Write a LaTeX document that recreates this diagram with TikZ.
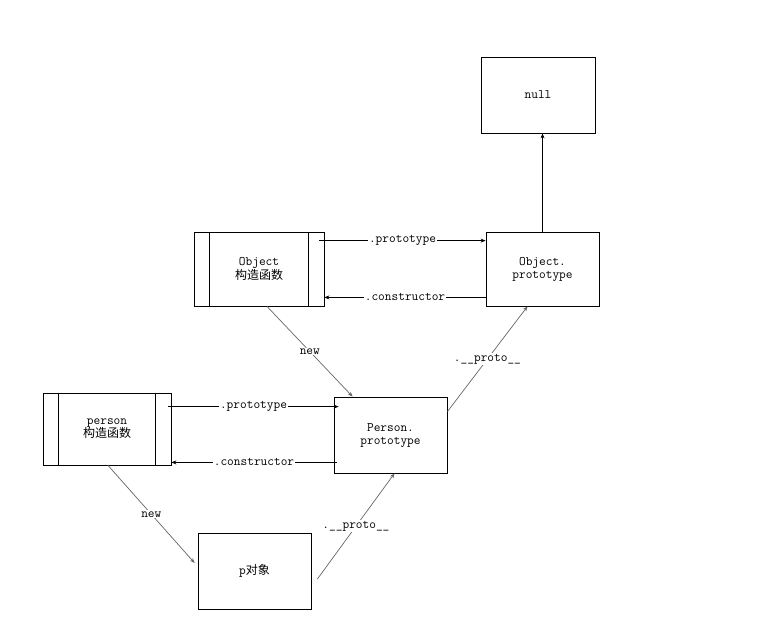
\documentclass[tikz,border=0pt]{standalone}
\usepackage{fontspec}
\newfontfamily\cjk{Noto Sans CJK SC}
\usetikzlibrary{arrows.meta}

\begin{document}
\begin{tikzpicture}[x=1pt, y=-1pt,
  box/.style={draw, line width=0.8pt, minimum width=113pt, minimum height=76pt,
    inner sep=0pt, align=center, font=\ttfamily\fontsize{13}{13}\selectfont},
  fnbox/.style={box, minimum width=130pt, minimum height=74pt},
  link/.style={line width=0.7pt, -{Stealth[length=5pt,width=4pt]}},
  slant/.style={link, draw=black!60},
  lbl/.style={fill=white, text=black, inner sep=1pt, font=\ttfamily\fontsize{13}{13}\selectfont}]
  \useasboundingbox (0,0) rectangle (784,633);

  % boxes
  \node[box, minimum width=114pt] (null) at (538,95) {null};
  \node[fnbox] (objfn) at (259,269) {Object\\{\cjk\fontsize{12}{13}\selectfont 构造函数}};
  \node[box, minimum height=74pt] (objproto) at (542.5,269) {Object.\\prototype};
  \node[fnbox, minimum width=128pt, minimum height=72pt] (personfn) at (107,429) {person\\{\cjk\fontsize{12}{13}\selectfont 构造函数}};
  \node[box] (personproto) at (390.5,435) {Person.\\prototype};
  \node[box] (pobj) at (254.5,571) {p{\cjk\fontsize{12}{13}\selectfont 对象}};

  % side bars of the constructor boxes
  \foreach \n in {objfn, personfn} {
    \draw[line width=0.8pt] ([xshift=16pt]\n.north west) -- ([xshift=16pt]\n.south west);
    \draw[line width=0.8pt] ([xshift=-16pt]\n.north east) -- ([xshift=-16pt]\n.south east);
  }

  % Object links
  \draw[link] ([xshift=-5pt,yshift=-9pt]objfn.north east) -- ([yshift=-9pt]objproto.north west)
    node[lbl, midway] {.prototype};
  \draw[link] ([yshift=9pt]objproto.south west) -- ([yshift=9pt]objfn.south east)
    node[lbl, midway] {.constructor};
  \draw[link] (objproto.north) -- (objproto.north |- null.south);
  \draw[slant] ([xshift=8pt]objfn.south) -- ([xshift=19pt]personproto.north west)
    node[lbl, midway] {new};
  \draw[slant] ([yshift=-15pt]personproto.north east) -- ([xshift=-15pt]objproto.south)
    node[lbl, midway] {.\_\_proto\_\_};

  % person links
  \draw[link] ([xshift=-3pt,yshift=-14pt]personfn.north east) -- ([xshift=5pt,yshift=-10pt]personproto.north west)
    node[lbl, midway] {.prototype};
  \draw[link] ([xshift=3pt,yshift=11pt]personproto.south west) -- ([yshift=3pt]personfn.south east)
    node[lbl, midway] {.constructor};
  \draw[slant] ([xshift=1pt]personfn.south) -- ([xshift=-3pt,yshift=8pt]pobj.west)
    node[lbl, midway] {new};
  \draw[slant] ([xshift=6pt,yshift=-8pt]pobj.east) -- ([xshift=4pt]personproto.south)
    node[lbl, midway] {.\_\_proto\_\_};
\end{tikzpicture}
\end{document}
